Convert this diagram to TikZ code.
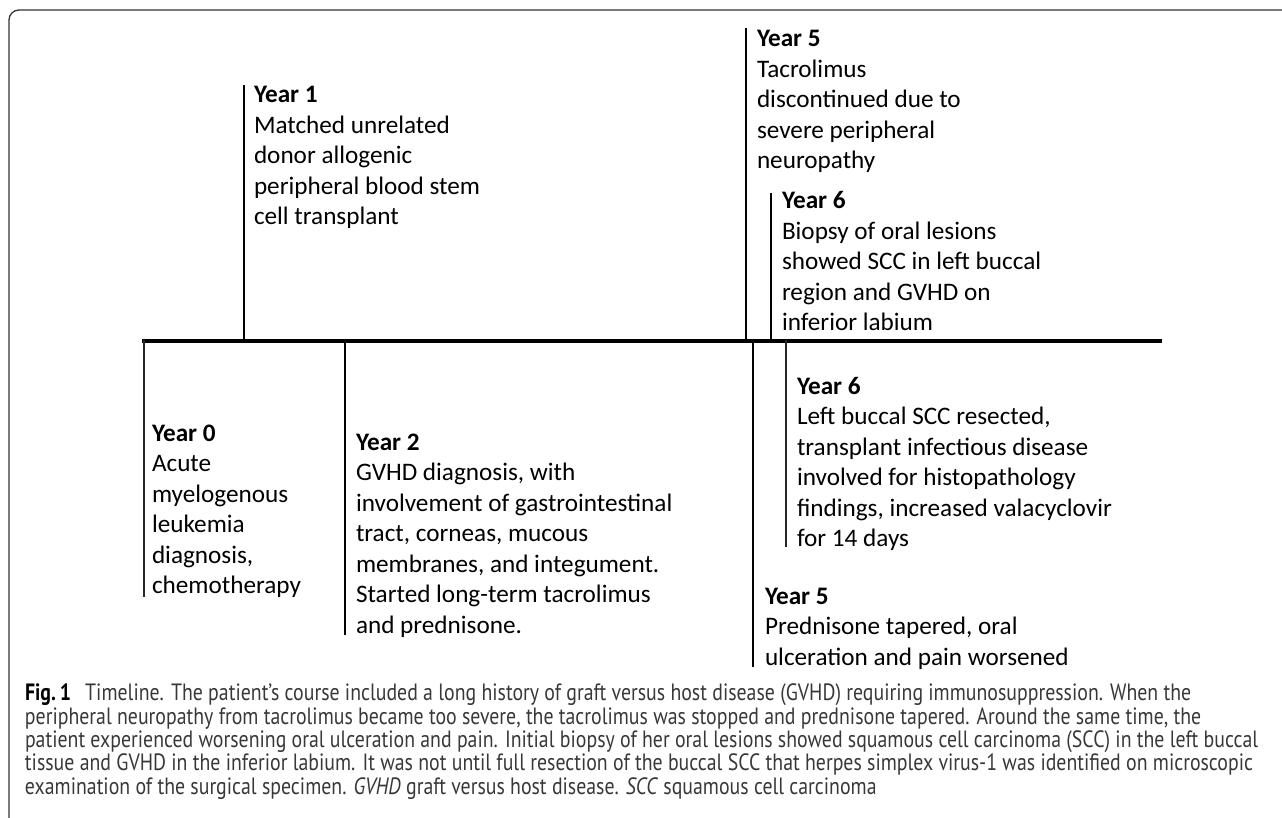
\documentclass[tikz,border=0pt]{standalone}
\usepackage{fontspec}
\setmainfont{Carlito}
\newfontfamily\capfont[FakeStretch=0.84]{PT Sans}
\newcommand\evtext[1]{\vtop{\lineskiplimit=-100pt\lineskip=0pt\let\\\cr\halign{##\hfil\cr#1\crcr}}}
\tikzset{
  frameline/.style={draw=black!80, line width=1.3pt, rounded corners=10pt},
  axisline/.style={draw=black, line width=4pt, line cap=butt},
  tick/.style={draw=black, line width=2pt, line cap=butt},
  thintick/.style={draw=black!85, line width=1.6pt, line cap=butt},
  evnode/.style={anchor=base west, inner sep=0pt, outer sep=0pt, font=\fontsize{25.2}{30.5}\selectfont, text=black},
  capnode/.style={anchor=base west, inner sep=0pt, outer sep=0pt, font=\capfont\fontsize{23.6}{23.4}\selectfont, text=black!78}
}
\begin{document}
\begin{tikzpicture}[x=1pt,y=-1pt]
\useasboundingbox (0,0) rectangle (1282,818);
% frame
\coordinate (fbl) at (9,818);
\coordinate (ftl) at (9,10);
\coordinate (ftr) at (1282,10);
\draw[frameline] (fbl) -- (ftl) -- (ftr);
% axis
\coordinate (axL) at (142,340.5);
\coordinate (axR) at (1162,340.5);
\draw[axisline] (axL) -- (axR);
% ticks
\coordinate (y1a) at (244,340); \coordinate (y1b) at (244,85);
\coordinate (y5a) at (746,340); \coordinate (y5b) at (746,28);
\coordinate (y6a) at (771,340); \coordinate (y6b) at (771,193);
\coordinate (y0a) at (144,340); \coordinate (y0b) at (144,597);
\coordinate (y2a) at (345,340); \coordinate (y2b) at (345,635);
\coordinate (y5ca) at (753,340); \coordinate (y5cb) at (753,667);
\coordinate (y6ca) at (786,340); \coordinate (y6cb) at (786,547);
\draw[tick] (y1a) -- (y1b);
\draw[tick] (y5a) -- (y5b);
\draw[tick] (y6a) -- (y6b);
\draw[thintick] (y0a) -- (y0b);
\draw[tick] (y2a) -- (y2b);
\draw[tick] (y5ca) -- (y5cb);
\draw[thintick] (y6ca) -- (y6cb);
% event texts
\node[evnode] (e1) at (254,103) {\evtext{\textbf{Year 1}\\Matched unrelated\\donor allogenic\\peripheral blood stem\\cell transplant}};
\node[evnode] (e5) at (757,47) {\evtext{\textbf{Year 5}\\Tacrolimus\\discontinued due to\\severe peripheral\\neuropathy}};
\node[evnode] (e6) at (782,209) {\evtext{\textbf{Year 6}\\Biopsy of oral lesions\\showed SCC in left buccal\\region and GVHD on\\inferior labium}};
\node[evnode] (e0) at (152,441) {\evtext{\textbf{Year 0}\\Acute\\myelogenous\\leukemia\\diagnosis,\\chemotherapy}};
\node[evnode] (e2) at (356,450) {\evtext{\textbf{Year 2}\\GVHD diagnosis, with\\involvement of gastrointestinal\\tract, corneas, mucous\\membranes, and integument.\\Started long-term tacrolimus\\and prednisone.}};
\node[evnode] (e5b) at (765,604) {\evtext{\textbf{Year 5}\\Prednisone tapered, oral\\ulceration and pain worsened}};
\node[evnode] (e6b) at (797,394) {\evtext{\textbf{Year 6}\\Left buccal SCC resected,\\transplant infectious disease\\involved for histopathology\\findings, increased valacyclovir\\for 14 days}};
% caption
\node[capnode] (cap) at (25,700.7) {\evtext{{\color{black}\bfseries Fig.\,1}\hspace{0.6em}Timeline. The patient’s course included a long history of graft versus host disease (GVHD) requiring immunosuppression. When the\\peripheral neuropathy from tacrolimus became too severe, the tacrolimus was stopped and prednisone tapered. Around the same time, the\\patient experienced worsening oral ulceration and pain. Initial biopsy of her oral lesions showed squamous cell carcinoma (SCC) in the left buccal\\tissue and GVHD in the inferior labium. It was not until full resection of the buccal SCC that herpes simplex virus-1 was identified on microscopic\\examination of the surgical specimen. \textit{GVHD} graft versus host disease. \textit{SCC} squamous cell carcinoma}};
\end{tikzpicture}
\end{document}
